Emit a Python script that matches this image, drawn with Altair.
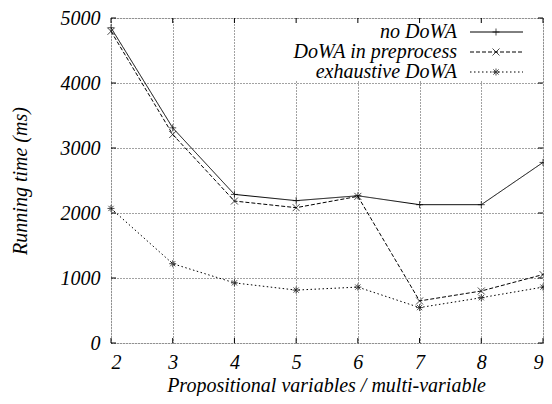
import altair as alt
import pandas as pd

xs = [2, 3, 4, 5, 6, 7, 8, 9]
no_dowa = [4850, 3310, 2286, 2190, 2265, 2128, 2128, 2778]
preprocess = [4795, 3208, 2184, 2082, 2256, 647, 800, 1053]
exhaustive = [2070, 1220, 925, 814, 860, 545, 697, 860]
series_names = ["no DoWA", "DoWA in preprocess", "exhaustive DoWA"]
y_ticks = [0, 1000, 2000, 3000, 4000, 5000]

FONT = "Liberation Serif"
FS = 20
W, H = 432, 325

shapes = [
    "M-1,0L1,0M0,-1L0,1",
    "M-1,-1L1,1M-1,1L1,-1",
    "M-1,0L1,0M0,-1L0,1M-0.75,-0.75L0.75,0.75M-0.75,0.75L0.75,-0.75",
]
dashes = [[1, 0], [4, 2], [1.5, 2.5]]

rows = []
for name, vals in zip(series_names, [no_dowa, preprocess, exhaustive]):
    for x, v in zip(xs, vals):
        rows.append({"x": x, "y": v, "series": name})
df = pd.DataFrame(rows)

xscale = alt.Scale(domain=[2, 9], nice=False, zero=False)
yscale = alt.Scale(domain=[0, 5000], nice=False)

xaxis = alt.Axis(
    values=xs, format="d", title="Propositional variables / multi-variable",
    grid=True, gridDash=[1, 2], gridColor="#444", gridWidth=1,
    domain=False, ticks=False, labelPadding=9,
    labelFont=FONT, labelFontStyle="italic", labelFontSize=FS, labelColor="black",
    titleFont=FONT, titleFontStyle="italic", titleFontSize=FS, titleFontWeight="normal",
    titleColor="black", titleY=48, titleBaseline="alphabetic", titleX=215,
)
yaxis = alt.Axis(
    values=y_ticks, format="d", title="Running time (ms)",
    grid=True, gridDash=[1, 2], gridColor="#444", gridWidth=1,
    domain=False, ticks=False, labelPadding=11,
    labelFont=FONT, labelFontStyle="italic", labelFontSize=FS, labelColor="black",
    titleFont=FONT, titleFontStyle="italic", titleFontSize=FS, titleFontWeight="normal",
    titleColor="black", titleX=-91, titleY=H / 2, titleAngle=270, titleBaseline="middle",
)

base = alt.Chart(df)

lines = base.mark_line(color="black", strokeWidth=1).encode(
    x=alt.X("x:Q", scale=xscale, axis=xaxis),
    y=alt.Y("y:Q", scale=yscale, axis=yaxis),
    strokeDash=alt.StrokeDash("series:N", scale=alt.Scale(domain=series_names, range=dashes), legend=None),
    detail="series:N",
)
points = base.mark_point(color="black", strokeWidth=1, filled=False, size=49).encode(
    x=alt.X("x:Q", scale=xscale),
    y=alt.Y("y:Q", scale=yscale),
    shape=alt.Shape("series:N", scale=alt.Scale(domain=series_names, range=shapes), legend=None),
)

# legend background box
box = alt.Chart(pd.DataFrame({"a": [0]})).mark_rect(fill="white", stroke=None).encode(
    x=alt.value(172), x2=alt.value(W - 1), y=alt.value(1), y2=alt.value(63)
)

layers = [lines, points, box]

# ticks (inside, mirrored)
xt = pd.DataFrame({"x": xs})
yt = pd.DataFrame({"y": y_ticks})
tk = 5
layers.append(alt.Chart(xt).mark_rule(color="black", strokeWidth=1).encode(
    x=alt.X("x:Q", scale=xscale), y=alt.value(H), y2=alt.value(H - tk)))
layers.append(alt.Chart(xt).mark_rule(color="black", strokeWidth=1).encode(
    x=alt.X("x:Q", scale=xscale), y=alt.value(0), y2=alt.value(tk)))
layers.append(alt.Chart(yt).mark_rule(color="black", strokeWidth=1).encode(
    y=alt.Y("y:Q", scale=yscale), x=alt.value(0), x2=alt.value(tk)))
layers.append(alt.Chart(yt).mark_rule(color="black", strokeWidth=1).encode(
    y=alt.Y("y:Q", scale=yscale), x=alt.value(W), x2=alt.value(W - tk)))

# manual legend
ly = [14, 34, 54]
lx = 346
for i, name in enumerate(series_names):
    d = pd.DataFrame({"label": [name]})
    layers.append(alt.Chart(d).mark_text(
        align="right", baseline="middle", font=FONT, fontStyle="italic", fontSize=FS, color="black"
    ).encode(text="label:N", x=alt.value(lx), y=alt.value(ly[i])))
    layers.append(alt.Chart(d).mark_rule(color="black", strokeWidth=1, strokeDash=dashes[i]).encode(
        x=alt.value(lx + 13), x2=alt.value(lx + 66), y=alt.value(ly[i])))
    layers.append(alt.Chart(d).mark_point(
        shape=shapes[i], size=49, filled=False, color="black", strokeWidth=1
    ).encode(x=alt.value(lx + 39), y=alt.value(ly[i])))

chart = alt.layer(*layers).properties(
    width=W, height=H,
    autosize=alt.AutoSizeParams(type="none"),
    padding={"left": 103, "top": 10, "right": 1, "bottom": 53},
).configure_view(stroke="black", strokeWidth=1.2).configure(background="white")

chart.save("out.html", embed_options={"renderer": "svg", "actions": False})
